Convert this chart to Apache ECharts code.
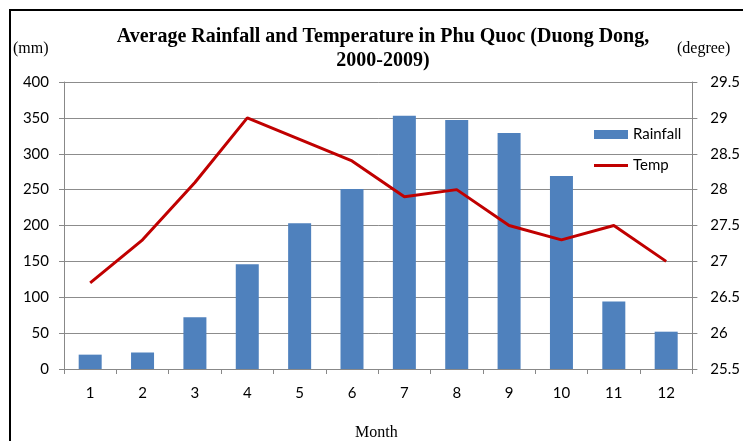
<!DOCTYPE html>
<html><head><meta charset="utf-8">
<script src="https://cdn.jsdelivr.net/npm/echarts@6/dist/echarts.min.js"></script>
<style>html,body{margin:0;padding:0;background:#fff}#c{width:743px;height:441px}</style>
</head><body><div id="c"></div>
<script>
const months = ['1','2','3','4','5','6','7','8','9','10','11','12'];
const rainfall = [20, 23, 72, 146, 203, 251, 353, 347, 329, 269, 94, 52];
const temp = [26.7, 27.3, 28.1, 29.0, 28.7, 28.4, 27.9, 28.0, 27.5, 27.3, 27.5, 27.0];
const titleText = 'Average Rainfall and Temperature in Phu Quoc (Duong Dong,\n2000-2009)';

const chart = echarts.init(document.getElementById('c'), null, {renderer:'canvas'});
const tickFont = {fontFamily:'Lato', fontSize:15, color:'#000'};
chart.setOption({
  animation:false,
  title:{text:titleText, left:378, textAlign:'center', top:20,
    textStyle:{fontFamily:'Liberation Serif', fontWeight:'bold', fontSize:20, color:'#000', lineHeight:24}},
  graphic:[
    {type:'rect', shape:{x:10, y:10, width:800, height:500}, style:{fill:null, stroke:'#000', lineWidth:2}},
    {type:'text', left:13, top:41, style:{text:'(mm)', font:'16px "Liberation Serif"', fill:'#000'}},
    {type:'text', left:677, top:41, style:{text:'(degree)', font:'16px "Liberation Serif"', fill:'#000'}},
    {type:'text', left:355, top:425, style:{text:'Month', font:'16px "Liberation Serif"', fill:'#000'}}
  ],
  legend:{orient:'vertical', left:589, top:122, itemGap:16, itemWidth:34, itemHeight:9,
    textStyle:{fontFamily:'Lato', fontSize:15, color:'#000'},
    data:[{name:'Rainfall', icon:'rect'},
          {name:'Temp', icon:'path://M0,0 L34,0 L34,3 L0,3 Z', itemStyle:{color:'#c00000'}}]},
  grid:{left:64, right:50, top:82, bottom:72},
  xAxis:{type:'category', data:months, boundaryGap:true,
    axisLine:{lineStyle:{color:'#888'}},
    axisTick:{show:true, length:5, interval:0, lineStyle:{color:'#888'}},
    axisLabel:{...tickFont, margin:17}},
  yAxis:[
    {type:'value', min:0, max:400, interval:50,
      axisLine:{show:true, lineStyle:{color:'#888'}},
      axisTick:{show:true, length:5, lineStyle:{color:'#888'}},
      axisLabel:{...tickFont, margin:15},
      splitLine:{lineStyle:{color:'#8c8c8c'}}},
    {type:'value', min:25.5, max:29.5, interval:0.5, position:'right',
      axisLine:{show:true, lineStyle:{color:'#888'}},
      axisTick:{show:true, length:5, lineStyle:{color:'#888'}},
      axisLabel:{...tickFont, margin:18},
      splitLine:{show:false}}
  ],
  series:[
    {name:'Rainfall', type:'bar', data:rainfall, barWidth:23, itemStyle:{color:'#4f81bd'}},
    {name:'Temp', type:'line', yAxisIndex:1, data:temp, symbol:'none',
      lineStyle:{color:'#c00000', width:3}, itemStyle:{color:'#c00000'}}
  ]
});
</script></body></html>
